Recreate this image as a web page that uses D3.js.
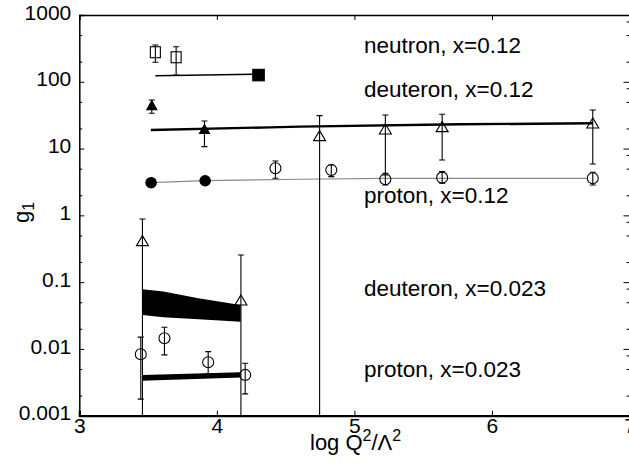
<!DOCTYPE html>
<html>
<head>
<meta charset="utf-8">
<script src="https://cdn.jsdelivr.net/npm/d3@7"></script>
<style>
  body { margin: 0; background: #fff; }
  svg { display: block; font-family: "Liberation Sans", Arial, sans-serif; }
</style>
</head>
<body>
<script>
// ---- data ----
var xTicks = [3, 4, 5, 6, 7];
var yTicks = [0.001, 0.01, 0.1, 1, 10, 100, 1000];
var yTickLabels = ["0.001", "0.01", "0.1", "1", "10", "100", "1000"];

// neutron, x=0.12
var neutronOpen = [
  {x: 3.553, y: 277, lo: 196, hi: 356},
  {x: 3.704, y: 233, lo: 126, hi: 335}
];
var neutronFilled = [{x: 4.303, y: 126}];
var neutronLine = [{x: 3.553, y: 123.4}, {x: 4.266, y: 129.5}];

// deuteron, x=0.12
var deuteronFilled = [
  {x: 3.527, y: 43.4, lo: 33.8, hi: 53.4},
  {x: 3.910, y: 19.0, lo: 10.7, hi: 25.9}
];
var deuteronOpen = [
  {x: 4.747, y: 15.1, lo: 0.0001, hi: 31.1},
  {x: 5.225, y: 19.0, lo: 4.03, hi: 31.8},
  {x: 5.638, y: 20.6, lo: 6.75, hi: 32.6},
  {x: 6.733, y: 23.3, lo: 5.88, hi: 37.8}
];
var deuteronLine = [
  {x: 3.52, y: 19.0}, {x: 4.388, y: 20.8}, {x: 4.606, y: 21.3},
  {x: 5.77, y: 23.1}, {x: 6.733, y: 23.9}
];

// proton, x=0.12
var protonFilled = [{x: 3.522, y: 3.09}, {x: 3.915, y: 3.30}];
var protonOpen = [
  {x: 4.426, y: 5.07, lo: 3.59, hi: 6.52},
  {x: 4.832, y: 4.78, lo: 3.80, hi: 5.68},
  {x: 5.225, y: 3.47, lo: 2.85, hi: 4.27},
  {x: 5.638, y: 3.67, lo: 3.02, hi: 4.51},
  {x: 6.733, y: 3.59, lo: 2.85, hi: 4.42}
];
var protonLine = [
  {x: 3.522, y: 3.09}, {x: 3.915, y: 3.30}, {x: 4.606, y: 3.47},
  {x: 5.225, y: 3.59}, {x: 6.69, y: 3.59}
];

// deuteron, x=0.023
var deut023Open = [
  {x: 3.459, y: 0.404, lo: 0.0001, hi: 0.883},
  {x: 4.175, y: 0.0523, lo: 0.0001, hi: 0.255}
];
var deut023BandX = [3.459, 3.611, 3.866, 4.173];
var deut023BandHi = [0.0783, 0.0721, 0.0574, 0.0456];
var deut023BandLo = [0.0323, 0.0298, 0.0279, 0.0256];

// proton, x=0.023
var prot023Open = [
  {x: 3.447, y: 0.00834, lo: 0.00177, hi: 0.0150},
  {x: 3.619, y: 0.01445, lo: 0.00813, hi: 0.0211},
  {x: 3.937, y: 0.00631, lo: 0.00423, hi: 0.00912},
  {x: 4.206, y: 0.00408, lo: 0.00212, hi: 0.0061}
];
var prot023BandX = [3.459, 4.173];
var prot023BandHi = [0.00408, 0.00448];
var prot023BandLo = [0.00335, 0.00372];

var labels = [
  {text: "neutron, x=0.12", y: 267},
  {text: "deuteron, x=0.12", y: 60},
  {text: "proton, x=0.12", y: 1.53},
  {text: "deuteron, x=0.023", y: 0.062},
  {text: "proton, x=0.023", y: 0.00385}
];

// ---- layout ----
var W = 629, H = 464;
var mLeft = 79.3, mRight = 629.5, mTop = 15, mBottom = 415.7;

var x = d3.scaleLinear().domain([3, 7]).range([mLeft, mRight]);
var y = d3.scaleLog().domain([0.001, 1000]).range([mBottom, mTop]);

var svg = d3.select("body").append("svg")
  .attr("width", W)
  .attr("height", H);

svg.append("defs").append("clipPath").attr("id", "plotclip")
  .append("rect")
  .attr("x", mLeft).attr("y", mTop)
  .attr("width", mRight - mLeft).attr("height", mBottom - mTop);

var plot = svg.append("g").attr("clip-path", "url(#plotclip)");

//---------------------------------bands----------------------------------
function band(xs, his, los) {
  var pts = xs.map(function(d, i) { return {x: d, hi: his[i], lo: los[i]}; });
  var area = d3.area()
    .x(function(d) { return x(d.x); })
    .y0(function(d) { return y(d.lo); })
    .y1(function(d) { return y(d.hi); });
  plot.append("path").datum(pts).attr("d", area).attr("fill", "#000");
}
band(deut023BandX, deut023BandHi, deut023BandLo);
band(prot023BandX, prot023BandHi, prot023BandLo);

//---------------------------------lines----------------------------------
var line = d3.line().x(function(d) { return x(d.x); }).y(function(d) { return y(d.y); });
plot.append("path").datum(protonLine).attr("d", line)
  .attr("fill", "none").attr("stroke", "#8a8a8a").attr("stroke-width", 1.2);
plot.append("path").datum(neutronLine).attr("d", line)
  .attr("fill", "none").attr("stroke", "#000").attr("stroke-width", 1.6);
plot.append("path").datum(deuteronLine).attr("d", line)
  .attr("fill", "none").attr("stroke", "#000").attr("stroke-width", 2.4);

//--------------------------------error bars------------------------------
function errorBars(data) {
  var g = plot.append("g").attr("stroke", "#000").attr("stroke-width", 1.1);
  data.forEach(function(d) {
    var cx = x(d.x);
    g.append("line").attr("x1", cx).attr("x2", cx).attr("y1", y(d.lo)).attr("y2", y(d.hi));
    [d.lo, d.hi].forEach(function(v) {
      if (v > 0.001) {
        g.append("line").attr("x1", cx - 3).attr("x2", cx + 3).attr("y1", y(v)).attr("y2", y(v));
      }
    });
  });
}
[neutronOpen, deuteronFilled, deuteronOpen, protonOpen, deut023Open, prot023Open].forEach(errorBars);

//---------------------------------markers--------------------------------
function triPath(w, h) {
  return "M0," + (-h * 0.6) + "L" + (w / 2) + "," + (h * 0.4) + "L" + (-w / 2) + "," + (h * 0.4) + "Z";
}
function markers(data, kind, filled) {
  var g = plot.append("g");
  data.forEach(function(d) {
    var cx = x(d.x), cy = y(d.y);
    var m;
    if (kind === "circle") {
      m = g.append("circle").attr("cx", cx).attr("cy", cy).attr("r", filled ? 5.2 : 5.5);
    } else if (kind === "square") {
      var s = filled ? 11.5 : 10;
      var sh = filled ? 11.5 : 11;
      m = g.append("rect").attr("x", cx - s / 2).attr("y", cy - sh / 2)
        .attr("width", s).attr("height", sh);
    } else {
      m = g.append("path").attr("d", filled ? triPath(10, 9) : triPath(12, 10))
        .attr("transform", "translate(" + cx + "," + cy + ")");
    }
    m.attr("fill", filled ? "#000" : "none").attr("stroke", "#000").attr("stroke-width", 1.1);
  });
}
markers(neutronOpen, "square", false);
markers(neutronFilled, "square", true);
markers(deuteronFilled, "triangle", true);
markers(deuteronOpen, "triangle", false);
markers(protonFilled, "circle", true);
markers(protonOpen, "circle", false);
markers(deut023Open, "triangle", false);
markers(prot023Open, "circle", false);

//--------------------------------axes------------------------------------
var minorY = [];
yTicks.slice(0, -1).forEach(function(d) { minorY.push(d * 2, d * 5); });
var minorYRight = [];
yTicks.slice(0, -1).forEach(function(d) { minorYRight.push(d * 2, d * 5, d * 8); });

// left
var gLeft = svg.append("g").attr("transform", "translate(" + mLeft + ",0)")
  .call(d3.axisLeft(y).tickValues(yTicks).tickSize(-5).tickPadding(8)
    .tickFormat(function(d, i) { return yTickLabels[i]; }));
gLeft.select(".domain").attr("stroke-width", 1.5);
gLeft.selectAll("text").attr("font-size", 21).attr("font-family", null).attr("fill", "#000").attr("dy", "0.2em");
svg.append("g").attr("transform", "translate(" + mLeft + ",0)")
  .call(d3.axisLeft(y).tickValues(minorY).tickSize(-3).tickFormat(""))
  .select(".domain").remove();

// right
svg.append("g").attr("transform", "translate(" + mRight + ",0)")
  .call(d3.axisRight(y).tickValues(yTicks).tickSize(-6).tickFormat(""));
svg.append("g").attr("transform", "translate(" + mRight + ",0)")
  .call(d3.axisRight(y).tickValues(minorYRight).tickSize(-3).tickFormat(""))
  .select(".domain").remove();

// bottom
var gBottom = svg.append("g").attr("transform", "translate(0," + mBottom + ")")
  .call(d3.axisBottom(x).tickValues(xTicks).tickSize(-5).tickPadding(2).tickFormat(d3.format("d")));
gBottom.select(".domain").attr("stroke-width", 2.2);
gBottom.selectAll("text").attr("font-size", 21).attr("font-family", null).attr("fill", "#000");

// top
var gTop = svg.append("g").attr("transform", "translate(0," + mTop + ")")
  .call(d3.axisTop(x).tickValues(xTicks).tickSize(-5).tickFormat(""));
gTop.select(".domain").attr("stroke-width", 1.5);

//--------------------------------texts-----------------------------------
svg.selectAll(".lab").data(labels).enter().append("text")
  .attr("class", "lab")
  .attr("x", 364)
  .attr("y", function(d) { return y(d.y); })
  .attr("font-size", 22.5)
  .text(function(d) { return d.text; });

var xt = svg.append("text").attr("x", 310).attr("y", 450).attr("font-size", 22);
xt.append("tspan").text("log Q");
xt.append("tspan").attr("font-size", 16).attr("dy", -9).text("2");
xt.append("tspan").attr("dy", 9).text("/\u039B");
xt.append("tspan").attr("font-size", 16).attr("dy", -9).text("2");

var yt = svg.append("text").attr("transform", "translate(29,223) rotate(-90)").attr("font-size", 22);
yt.append("tspan").text("g");
yt.append("tspan").attr("font-size", 16).attr("dy", 5).text("1");
</script>
</body>
</html>
